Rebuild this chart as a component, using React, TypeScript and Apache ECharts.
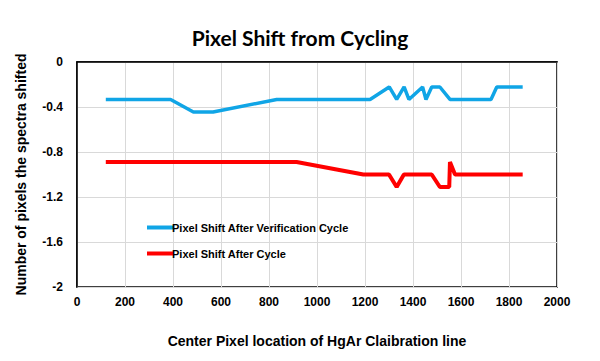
import React, { useEffect, useRef } from "react";
import * as echarts from "echarts";

const verificationX = [120, 390, 485, 567, 832, 1221, 1301, 1332, 1363, 1383, 1440, 1454, 1478, 1512, 1554, 1725, 1749, 1857];
const verificationY = [-0.333, -0.333, -0.444, -0.444, -0.333, -0.333, -0.222, -0.333, -0.222, -0.333, -0.222, -0.333, -0.222, -0.222, -0.333, -0.333, -0.222, -0.222];
const cycleX = [120, 915, 1193, 1300, 1332, 1362, 1478, 1512, 1551, 1554, 1575, 1857];
const cycleY = [-0.889, -0.889, -1.0, -1.0, -1.111, -1.0, -1.0, -1.111, -1.111, -0.889, -1.0, -1.0];
const seriesNames = ["Pixel Shift After Verification Cycle", "Pixel Shift After Cycle"];

export default function App() {
  const ref = useRef<HTMLDivElement>(null);
  useEffect(() => {
    if (!ref.current) return;
    const chart = echarts.init(ref.current, null, { renderer: "svg" });
    const bold = { fontFamily: "Liberation Sans, Arial, sans-serif", fontWeight: "bold" as const, color: "#000" };
    chart.setOption({
      animation: false,
      backgroundColor: "#fff",
      title: {
        text: "Pixel Shift from Cycling",
        left: "center",
        top: 22,
        textStyle: { fontFamily: "Lato, Open Sans, sans-serif", fontWeight: "bold", fontSize: 21, color: "#000" },
      },
      grid: { left: 77, right: 43, top: 62, bottom: 74, show: true, borderColor: "#000", borderWidth: 1.5, backgroundColor: "transparent" },
      legend: {
        orient: "vertical",
        left: 142,
        top: 217,
        itemWidth: 26,
        itemHeight: 4,
        itemGap: 15,
        icon: "rect",
        textStyle: { ...bold, fontSize: 11, padding: [0, 0, 0, -6] },
        data: seriesNames,
      },
      xAxis: {
        type: "value",
        min: 0,
        max: 2000,
        interval: 200,
        name: "Center Pixel location of HgAr Claibration line",
        nameLocation: "middle",
        nameGap: 47,
        nameTextStyle: { ...bold, fontSize: 14 },
        axisLine: { show: true, lineStyle: { color: "#000", width: 1.5 } },
        axisTick: { show: false },
        axisLabel: { ...bold, fontSize: 12, margin: 9, formatter: (v: number) => String(v) },
        splitLine: { show: true, lineStyle: { color: "#d9d9d9", width: 1 } },
      },
      yAxis: {
        type: "value",
        min: -2,
        max: 0,
        interval: 0.4,
        name: "Number of pixels the spectra shifted",
        nameLocation: "middle",
        nameGap: 49,
        nameTextStyle: { ...bold, fontSize: 14 },
        axisLine: { show: true, lineStyle: { color: "#000", width: 1.5 } },
        axisTick: { show: false },
        axisLabel: { ...bold, fontSize: 12, margin: 14, formatter: (v: number) => String(Math.round(v * 10) / 10) },
        splitLine: { show: true, lineStyle: { color: "#d9d9d9", width: 1 } },
      },
      series: [
        {
          name: seriesNames[0],
          type: "line",
          data: verificationX.map((x, i) => [x, verificationY[i]]),
          showSymbol: false,
          symbol: "none",
          lineStyle: { color: "#10a5e6", width: 3.5 },
          itemStyle: { color: "#10a5e6" },
        },
        {
          name: seriesNames[1],
          type: "line",
          data: cycleX.map((x, i) => [x, cycleY[i]]),
          showSymbol: false,
          symbol: "none",
          lineStyle: { color: "#ff0000", width: 4 },
          itemStyle: { color: "#ff0000" },
        },
      ],
    });
    return () => chart.dispose();
  }, []);
  return <div ref={ref} style={{ width: 600, height: 361, position: "absolute", left: 0, top: 0 }} />;
}
